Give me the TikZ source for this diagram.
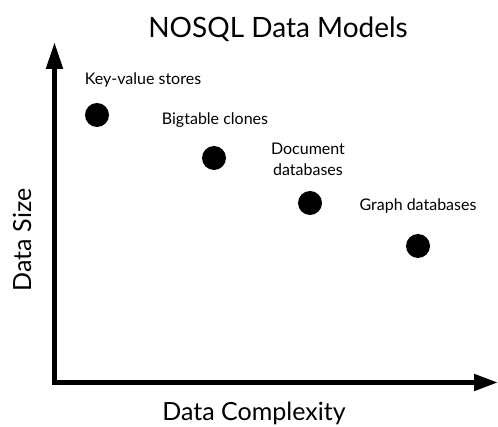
\documentclass[tikz,border=0pt]{standalone}
\usepackage{fontspec}
\setmainfont{Lato}
\usetikzlibrary{arrows.meta}
\begin{document}
\begin{tikzpicture}[x=1pt,y=-1pt,
  dot/.style={circle,fill=black,inner sep=0pt,minimum size=24pt},
  lbl/.style={font=\fontsize{16}{21}\selectfont,inner sep=0pt,align=center},
  axislbl/.style={font=\fontsize{25}{30}\selectfont,inner sep=0pt},
  axis/.style={line width=5pt,line join=miter}]
\useasboundingbox (0,0) rectangle (498,427);
\node[font=\fontsize{28}{34}\selectfont,inner sep=0pt] (title) at (278,29) {NOSQL Data Models};
\coordinate (ytip) at (54.5,42);
\coordinate (origin) at (54.5,382.5);
\coordinate (xtip) at (498,382.5);
\draw[axis,{Triangle[length=27pt,width=16pt]}-{Triangle[length=24pt,width=16pt]}] (ytip) -- (origin) -- (xtip);
\node[axislbl] (xl) at (254,413) {Data Complexity};
\node[axislbl,rotate=90] (yl) at (22,240) {Data Size};
\node[dot] (kv) at (97,115) {};
\node[dot] (bt) at (214,158) {};
\node[dot] (doc) at (310,203) {};
\node[dot] (gr) at (418,246) {};
\node[lbl] (kvl) at (143,80) {Key-value stores};
\node[lbl] (btl) at (215,120) {Bigtable clones};
\node[lbl] (docl) at (308,159) {Document\\databases};
\node[lbl] (grl) at (418,206) {Graph databases};
\end{tikzpicture}
\end{document}
